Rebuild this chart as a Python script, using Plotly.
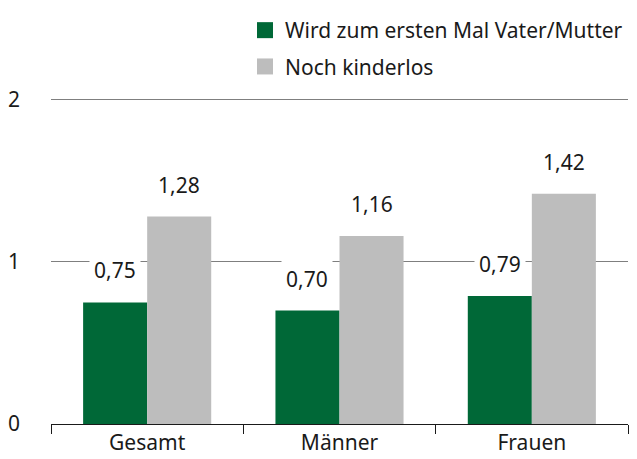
import plotly.graph_objects as go

categories = ["Gesamt", "Männer", "Frauen"]
series_names = ["Wird zum ersten Mal Vater/Mutter", "Noch kinderlos"]
first_child = [0.75, 0.70, 0.79]
childless = [1.28, 1.16, 1.42]
value_labels_first = ["0,75", "0,70", "0,79"]
value_labels_childless = ["1,28", "1,16", "1,42"]
colors = ["#006837", "#bdbdbd"]

FONT = "Noto Sans, Roboto, sans-serif"
TXT = "#1a1a1a"
FS = 21
bargap = 0.334
half = (1 - bargap) / 4

fig = go.Figure()
for vals, name, col in [(first_child, series_names[0], colors[0]), (childless, series_names[1], colors[1])]:
    fig.add_trace(go.Bar(x=categories, y=vals, name=name, showlegend=False,
                         marker=dict(color=col, line=dict(width=0))))
# legend entries with square swatches
for name, col, grp in [(series_names[0], colors[0], "a"), (series_names[1], colors[1], "b")]:
    fig.add_trace(go.Scatter(x=[None], y=[None], mode="markers", name=name, legendgroup=grp,
                             marker=dict(symbol="square", size=16, color=col)))

for i, (v, t) in enumerate(zip(first_child, value_labels_first)):
    fig.add_annotation(x=i - half, y=v, xref="x", yref="y", text=t, showarrow=False,
                       yanchor="bottom", yshift=13, bgcolor="white", borderpad=4,
                       font=dict(size=FS, color=TXT, family=FONT))
for i, (v, t) in enumerate(zip(childless, value_labels_childless)):
    fig.add_annotation(x=i + half, y=v, xref="x", yref="y", text=t, showarrow=False,
                       yanchor="bottom", yshift=13, bgcolor="white", borderpad=4,
                       font=dict(size=FS, color=TXT, family=FONT))

fig.update_layout(
    width=637, height=459,
    margin=dict(l=51, r=9, t=95, b=35, autoexpand=False),
    barmode="group", bargap=bargap, bargroupgap=0,
    plot_bgcolor="white", paper_bgcolor="white",
    font=dict(family=FONT, size=FS, color=TXT),
    legend=dict(x=1, xanchor="right", yref="container", y=1 - 10 / 459, yanchor="top",
                orientation="v", font=dict(size=FS), tracegroupgap=6,
                itemwidth=30, bgcolor="rgba(0,0,0,0)"),
)
fig.update_xaxes(showline=True, linecolor=TXT, linewidth=1.2, ticks="outside",
                 tickson="boundaries", ticklen=9, tickcolor=TXT, tickwidth=1.2,
                 showgrid=False, tickfont=dict(size=FS), range=[-0.5, 2.5])
fig.update_yaxes(range=[0, 2.03], tickvals=[0, 1, 2], ticktext=["0", "1", "2"],
                 showgrid=True, gridcolor="#7f7f7f", gridwidth=1, zeroline=False,
                 showline=False, ticks="", ticklabelstandoff=30, tickfont=dict(size=FS))

fig.write_html("out.html", config={"displayModeBar": False},
               post_script="document.body.style.margin='0';")
